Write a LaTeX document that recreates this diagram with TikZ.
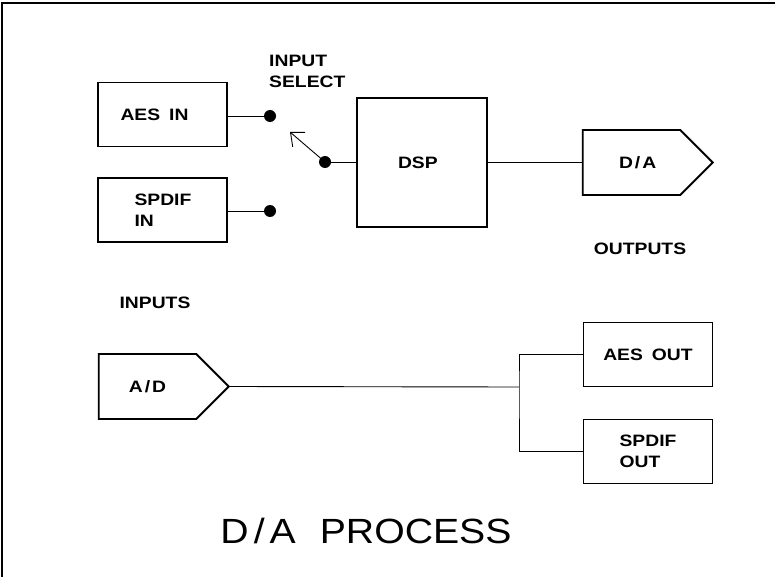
\documentclass[tikz,border=0pt]{standalone}
\usepackage{fontspec}
\newfontfamily\lblfont[FakeStretch=1.17]{Liberation Sans Bold}
\newfontfamily\titlefont[FakeStretch=1.12]{Liberation Sans}
\usepackage{tikz}
\usetikzlibrary{shapes.symbols, positioning, arrows.meta}

\begin{document}
\begin{tikzpicture}[x=1pt, y=-1pt,
            bloque/.style={rectangle, draw, line width=1.8pt, minimum width=129pt, minimum height=64pt, align=left, inner sep=0pt},
            conv/.style={signal, signal to=east, signal pointer angle=90, draw, line width=1.8pt, minimum width=130pt, minimum height=65pt, inner sep=0pt, align=left},
            contacto/.style={circle, fill, inner sep=0pt, minimum size=12pt},
            cable/.style={line width=0.9pt},
            etiqueta/.style={font=\lblfont\fontsize{16.5}{20.5}\selectfont, align=left, inner sep=0pt}
        ]
            \useasboundingbox (0,0) rectangle (775,577);
            % Marco
            \draw[line width=1.5pt] (775,3) -- (2,3) -- (2,577);

            % Entradas
            \node[bloque, etiqueta, text width=84pt] (aes_in) at (162.5,114.5) {AES\hspace{9pt}IN};
            \node[bloque, etiqueta, text width=56pt] (spdif_in) at (162.5,210) {SPDIF\\IN};

            % Contactos del selector
            \node[contacto] (c_aes) at (270,116) {};
            \node[contacto] (c_spdif) at (270,211) {};
            \node[contacto] (c_sel) at (325,162) {};
            \coordinate (sel_tip) at (290,132);
            \node[etiqueta, anchor=north west] (txt_sel) at (269,55) {INPUT\\SELECT};

            % DSP
            \node[bloque, etiqueta, minimum width=130pt, minimum height=129pt, text width=48pt] (dsp) at (422,162.5) {DSP};

            % Convertidores
            \node[conv, etiqueta, text width=25pt] (da) at (631.5,162.5) {D\kern2pt/\kern2pt A};
            \node[conv, etiqueta] (ad) at (147.5,386.5) {A\kern2pt/\kern2pt D};

            % Salidas
            \node[bloque, etiqueta] (aes_out) at (648,354.5) {AES\hspace{9pt}OUT};
            \node[bloque, etiqueta] (spdif_out) at (648,451.5) {SPDIF\\OUT};
            \coordinate (nodo) at (519,387);

            % Textos
            \node[etiqueta] (txt_out) at (640,249) {OUTPUTS};
            \node[etiqueta] (txt_in) at (155,303) {INPUTS};
            \node[font=\titlefont\fontsize{35}{40}\selectfont, inner sep=0pt] (titulo) at (366,530.5) {D\kern5pt/\kern5pt A\hspace{24pt}PROCESS};

            % Cables
            \draw[cable] (aes_in.east |- c_aes) -- (c_aes);
            \draw[cable] (spdif_in.east |- c_spdif) -- (c_spdif);
            \draw[cable] (c_sel) -- (dsp.west |- c_sel);
            \draw[cable, -{Straight Barb[length=11pt, width=19pt, line width=0.9pt]}] (c_sel.center) -- (sel_tip);
            \draw[cable] (dsp.east) -- (da.west);
            \draw[cable] (ad.east) -- (nodo);
            \draw[cable] (aes_out.west) -| (nodo) |- (spdif_out.west);

        \end{tikzpicture}
\end{document}
